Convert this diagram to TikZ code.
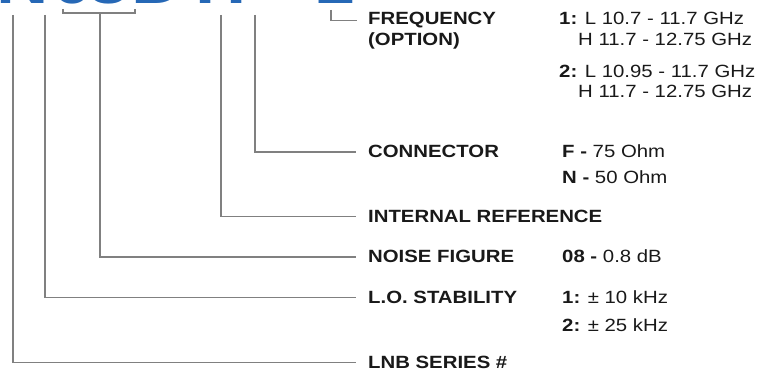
\documentclass[tikz,border=0pt]{standalone}
\usepackage{fontspec}
\setmainfont{Liberation Sans}[FakeStretch=1.15]
\usetikzlibrary{positioning}
\definecolor{leadgray}{RGB}{128,128,128}
\definecolor{modelblue}{RGB}{38,104,182}
\definecolor{inkblack}{RGB}{25,25,25}

\begin{document}
\begin{tikzpicture}[
  x=1pt, y=-1pt,
  lead/.style={draw=leadgray, line width=1.3pt},
  field/.style={anchor=base west, inner sep=0pt, text=inkblack,
    font=\fontsize{17.7}{21}\selectfont\bfseries},
  option/.style={anchor=base west, inner sep=0pt, text=inkblack,
    font=\fontsize{17.7}{21}\selectfont},
  model/.style={anchor=base west, inner sep=0pt, text=modelblue,
    font=\fontsize{63}{70}\selectfont\bfseries}
]
\useasboundingbox (0,0) rectangle (760,371);
\clip (0,0) rectangle (760,371);
% model number, cut by the top edge
\foreach \ch/\xx [count=\i] in {N/-4, 0/52, 8/88, D/131, I/195, F/226, -/275, 1/314}
  \node[model, name=mc\i] at (\xx,3.5) {\ch};
% field names
\node[field] (freq) at (368,25) {FREQUENCY};
\node[field] (freqopt) at (368,45.5) {(OPTION)};
\node[field] (conn) at (368,158) {CONNECTOR};
\node[field] (intref) at (368,222.5) {INTERNAL REFERENCE};
\node[field] (noise) at (368,263) {NOISE FIGURE};
\node[field] (stab) at (368,303.5) {L.O. STABILITY};
\node[field] (series) at (368,368.5) {LNB SERIES \#};
% options
\node[option] (freqA) at (559,25) {\textbf{1:} L 10.7 - 11.7 GHz};
\node[option] (freqAH) at (578,46) {H 11.7 - 12.75 GHz};
\node[option] (freqB) at (559,77.5) {\textbf{2:} L 10.95 - 11.7 GHz};
\node[option] (freqBH) at (578,98) {H 11.7 - 12.75 GHz};
\node[option] (connF) at (562,158) {\textbf{F -} 75 Ohm};
\node[option] (connN) at (562,183.5) {\textbf{N -} 50 Ohm};
\node[option] (noise08) at (562,263) {\textbf{08 -} 0.8 dB};
\node[option] (stabA) at (562,303.5) {\textbf{1:} ± 10 kHz};
\node[option] (stabB) at (562,331) {\textbf{2:} ± 25 kHz};
% leads from the model number
\coordinate (seriesTop) at (13,15);
\coordinate (stabTop) at (45,15);
\coordinate (noiseTop) at (100,13);
\coordinate (intrefTop) at (221,15);
\coordinate (connTop) at (255,15);
\coordinate (freqTop) at (331,10);
\draw[lead] (63,9) -- (63,13) -- (135,13) -- (135,9);
\draw[lead] (seriesTop) |- ([xshift=-12pt]series.west);
\draw[lead] (stabTop) |- ([xshift=-12pt]stab.west);
\draw[lead] (noiseTop) |- ([xshift=-12pt]noise.west);
\draw[lead] (intrefTop) |- ([xshift=-12pt]intref.west);
\draw[lead] (connTop) |- ([xshift=-12pt]conn.west);
\draw[lead] (freqTop) |- ([xshift=-11pt]freq.west);
\end{tikzpicture}
\end{document}
